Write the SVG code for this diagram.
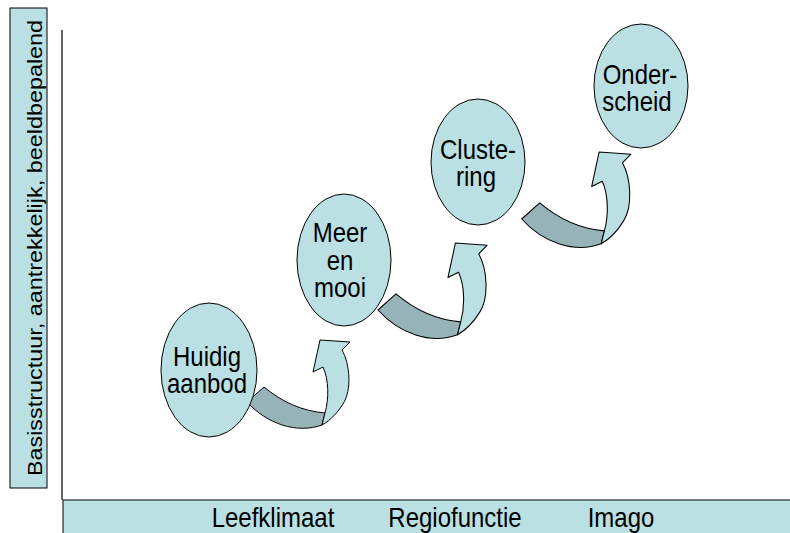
<svg xmlns="http://www.w3.org/2000/svg" width="790" height="533" viewBox="0 0 790 533">
  <style>
    .bg { fill: #ffffff; }
    .panel { fill: #bbe0e3; stroke: #000000; stroke-width: 1; }
    .axis { fill: none; stroke: #000000; stroke-width: 1.2; }
    .node { fill: #bbe0e3; stroke: #000000; stroke-width: 1; }
    .label { font-family: "Liberation Sans", Arial, sans-serif; font-size: 24px; fill: #000000; text-anchor: middle; }
    .caption { font-family: "Liberation Sans", Arial, sans-serif; font-size: 20px; fill: #000000; text-anchor: middle; }
    .under { fill: #96b4b7; stroke: #000000; stroke-width: 1; stroke-linejoin: round; }
    .upper { fill: #bbe0e3; stroke: #000000; stroke-width: 1; stroke-linejoin: round; }
  </style>
  <defs>
    <!-- curved up-arrow: dark underside ribbon, then light face rising to the head -->
    <g id="curved-arrow">
      <path class="under" d="M0,0 L17,-15 C35,0 55,9 78,11 L75,23 C50,32 20,22 0,0 Z"/>
      <path class="upper" d="M78,11 C82,-3 82,-22 76,-35 L66,-30 L73,-62 L103,-60 L95,-52 C103,-38 105,-12 96,2 C91,10 84,18 75,23 Z"/>
    </g>
  </defs>

  <rect class="bg" x="0" y="0" width="790" height="533"/>

  <!-- vertical axis caption -->
  <g id="y-axis-label">
    <rect class="panel" x="10" y="8" width="37" height="480"/>
    <text class="caption" transform="translate(41.5,248) rotate(-90) scale(1.17,1)">Basisstructuur, aantrekkelijk, beeldbepalend</text>
  </g>

  <!-- horizontal axis band -->
  <g id="x-axis-label">
    <rect class="panel" x="63" y="500" width="730" height="40"/>
    <text class="label" transform="translate(273,527) scale(1,1.15)">Leefklimaat</text>
    <text class="label" transform="translate(455,527) scale(1,1.15)">Regiofunctie</text>
    <text class="label" transform="translate(621,527) scale(1,1.15)">Imago</text>
  </g>

  <!-- axes -->
  <g id="axes">
    <line class="axis" x1="62" y1="30" x2="62" y2="500"/>
  </g>

  <!-- connectors -->
  <g id="connectors">
    <use href="#curved-arrow" transform="translate(247,402)"/>
    <use href="#curved-arrow" transform="translate(378,310) scale(1.06,1.08)"/>
    <use href="#curved-arrow" transform="translate(521.7,219) scale(1.06,1.08)"/>
  </g>

  <!-- stages -->
  <g id="node-huidig-aanbod">
    <ellipse class="node" cx="209" cy="370" rx="48" ry="67"/>
    <text class="label" transform="translate(207,366) scale(1,1.15)">Huidig</text>
    <text class="label" transform="translate(207,393) scale(1,1.15)">aanbod</text>
  </g>

  <g id="node-meer-en-mooi">
    <ellipse class="node" cx="344" cy="260" rx="47" ry="66"/>
    <text class="label" transform="translate(340,242) scale(1,1.15)">Meer</text>
    <text class="label" transform="translate(340,270) scale(1,1.15)">en</text>
    <text class="label" transform="translate(340,297) scale(1,1.15)">mooi</text>
  </g>

  <g id="node-clustering">
    <ellipse class="node" cx="478" cy="162" rx="47" ry="63"/>
    <text class="label" transform="translate(478,159) scale(1,1.15)">Cluste-</text>
    <text class="label" transform="translate(476,186) scale(1,1.15)">ring</text>
  </g>

  <g id="node-onderscheid">
    <ellipse class="node" cx="641" cy="86" rx="47" ry="62"/>
    <text class="label" transform="translate(640,84) scale(1,1.15)">Onder-</text>
    <text class="label" transform="translate(637,111) scale(1,1.15)">scheid</text>
  </g>
</svg>
